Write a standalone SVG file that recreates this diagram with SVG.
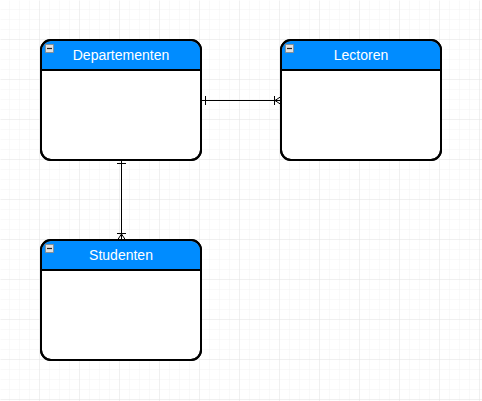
<svg xmlns="http://www.w3.org/2000/svg" width="482" height="401" viewBox="0 0 482 401">
<defs>
<pattern id="minor" width="10" height="10" patternUnits="userSpaceOnUse"><path d="M10 0V10H0" fill="none" stroke="#f3f3f3" stroke-width="1"/></pattern>
<pattern id="major" width="40" height="40" patternUnits="userSpaceOnUse"><path d="M40 0V40H0" fill="none" stroke="#e6e6e6" stroke-width="1"/></pattern>
</defs>
<style>
.box{fill:#fff;stroke:#000;stroke-width:2}
.hdr{fill:#008cff}
.t{font-family:"Liberation Sans",Arial,sans-serif;font-size:14px;fill:#fff;text-anchor:middle}
.ic{fill:#e0e0e0;stroke:#888;stroke-width:0.8}
.ln{fill:none;stroke:#000;stroke-width:1}
</style>
<rect width="482" height="401" fill="#fff"/>
<rect x="0.5" y="0.5" width="482" height="401" fill="url(#minor)"/>
<rect x="0.5" y="0.5" width="482" height="401" fill="url(#major)"/>
<g id="connectors">
<path class="ln" d="M201 100.5H281M205.5 96V105M274.5 96V105M281 96.5L275 100.5L281 104.5"/>
<path class="ln" d="M121.5 160V240M117 163.5H126M117 233.5H126M117.5 240L121.5 234L125.5 240"/>
</g>
<g id="departementen">
<rect class="box" x="41" y="40" width="160" height="120" rx="10"/>
<path class="hdr" d="M51 41H191A9 9 0 0 1 200 50V70H42V50A9 9 0 0 1 51 41Z"/>
<rect class="box" x="41" y="40" width="160" height="120" rx="10" style="fill:none"/>
<line x1="41" y1="70" x2="201" y2="70" stroke="#000" stroke-width="2"/>
<rect class="ic" x="45.5" y="44.5" width="8" height="8"/><path d="M47 48.5H52" stroke="#222" stroke-width="1.2"/>
<text class="t" x="121" y="60">Departementen</text>
</g>
<g id="lectoren">
<rect class="box" x="281" y="40" width="160" height="120" rx="10"/>
<path class="hdr" d="M291 41H431A9 9 0 0 1 440 50V70H282V50A9 9 0 0 1 291 41Z"/>
<rect class="box" x="281" y="40" width="160" height="120" rx="10" style="fill:none"/>
<line x1="281" y1="70" x2="441" y2="70" stroke="#000" stroke-width="2"/>
<rect class="ic" x="285.5" y="44.5" width="8" height="8"/><path d="M287 48.5H292" stroke="#222" stroke-width="1.2"/>
<text class="t" x="361" y="60">Lectoren</text>
</g>
<g id="studenten">
<rect class="box" x="41" y="240" width="160" height="120" rx="10"/>
<path class="hdr" d="M51 241H191A9 9 0 0 1 200 250V270H42V250A9 9 0 0 1 51 241Z"/>
<rect class="box" x="41" y="240" width="160" height="120" rx="10" style="fill:none"/>
<line x1="41" y1="270" x2="201" y2="270" stroke="#000" stroke-width="2"/>
<rect class="ic" x="45.5" y="244.5" width="8" height="8"/><path d="M47 248.5H52" stroke="#222" stroke-width="1.2"/>
<text class="t" x="121" y="260">Studenten</text>
</g>
</svg>
